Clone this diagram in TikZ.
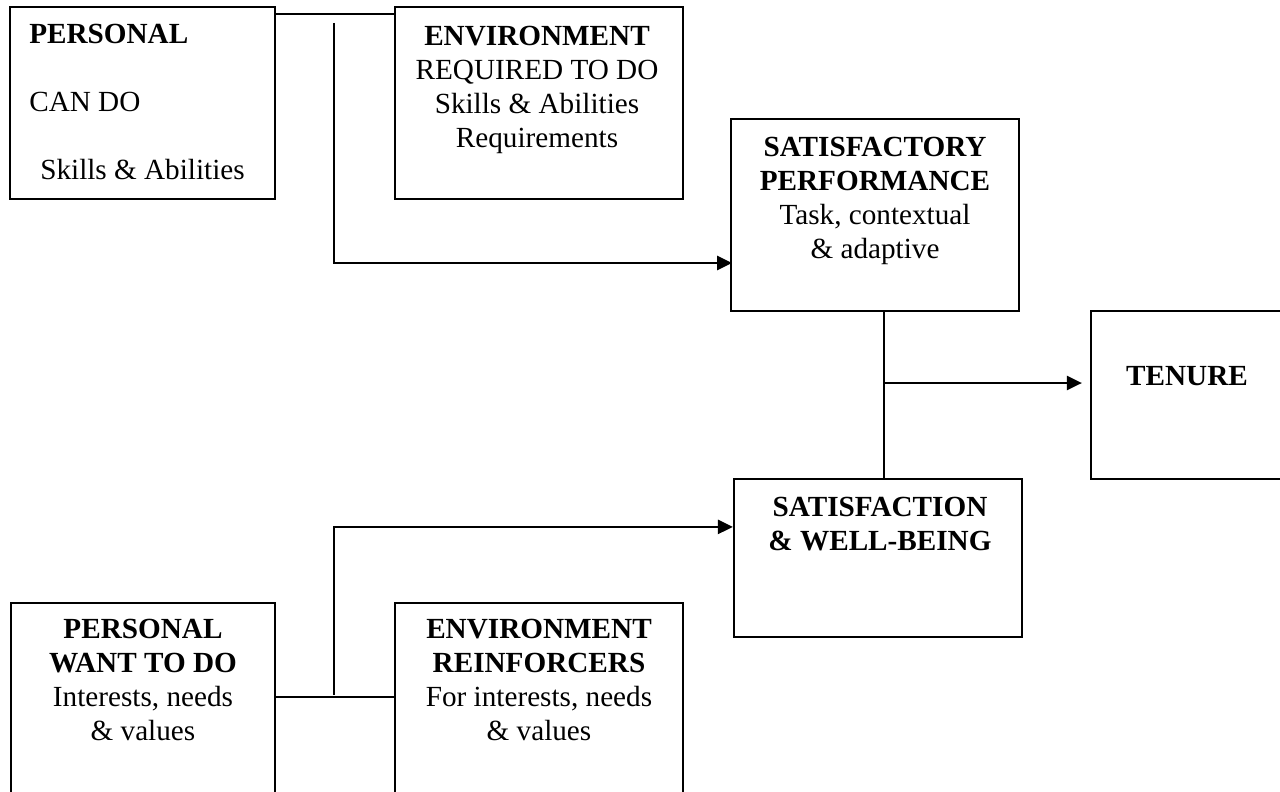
\documentclass[tikz,border=0pt]{standalone}
\usepackage{fontspec}
\setmainfont{Liberation Serif}
\usepackage{tikz}
\usetikzlibrary{arrows.meta, positioning, fit}

\tikzset{
  box/.style={draw, line width=1.1pt, inner sep=0pt},
  txt/.style={inner sep=0pt, align=center, font=\fontsize{14.6}{17}\selectfont},
  link/.style={line width=1.1pt},
  arr/.style={line width=1.3pt, -{Triangle[length=7.5pt, width=7pt]}}
}

\begin{document}
\begin{tikzpicture}[x=0.5pt, y=-0.5pt]
  \useasboundingbox (0,0) rectangle (1280,792);
  % Boxes
  \node[box, fit={(10,7) (275,199)}] (pcan) {};
  \node[box, fit={(395,7) (683,199)}] (ereq) {};
  \node[box, fit={(731,119) (1019,311)}] (perf) {};
  \node[box, fit={(1091,311) (1283,479)}] (tenure) {};
  \node[box, fit={(734,479) (1022,637)}] (satis) {};
  \node[box, fit={(11,603) (275,810)}] (pwant) {};
  \node[box, fit={(395,603) (683,810)}] (erein) {};
  % Box texts
  \node[txt, align=left, below right=9pt and 10pt of pcan.north west] (pcantxt)
    {\textbf{PERSONAL}\\ \\CAN DO\\ \\\hspace{5.5pt}Skills \& Abilities};
  \node[txt, below=10pt of ereq.north, xshift=-1pt] (ereqtxt)
    {\textbf{ENVIRONMENT}\\REQUIRED TO DO\\Skills \& Abilities\\Requirements};
  \node[txt, below=9.5pt of perf.north] (perftxt)
    {\textbf{SATISFACTORY}\\\textbf{PERFORMANCE}\\Task, contextual\\\& adaptive};
  \node[txt, below=28pt of tenure.north] (tenuretxt) {\textbf{TENURE}};
  \node[txt, below=9.5pt of satis.north, xshift=1pt] (satistxt)
    {\textbf{SATISFACTION}\\\textbf{\& WELL-BEING}};
  \node[txt, below=8.5pt of pwant.north] (pwanttxt)
    {\textbf{PERSONAL}\\\textbf{WANT TO DO}\\Interests, needs\\\& values};
  \node[txt, below=8.5pt of erein.north] (ereintxt)
    {\textbf{ENVIRONMENT}\\\textbf{REINFORCERS}\\For interests, needs\\\& values};
  % Can-do fit to performance
  \draw[link] ([yshift=-4pt]pcan.north east) -- ([yshift=-4pt]ereq.north west);
  \coordinate (can) at (334,23);
  \coordinate (canin) at (732,263);
  \draw[arr] (can) |- (canin);
  % Performance and satisfaction to tenure
  \draw[link] ([xshift=4.5pt]perf.south) -- ([xshift=4.5pt]perf.south |- satis.north);
  \coordinate (mid) at (884,383);
  \draw[arr] (mid) -- ([xshift=-4pt]tenure.west |- mid);
  % Want-to-do fit to satisfaction
  \draw[link] ([yshift=-47.5pt]pwant.north east) -- ([yshift=-47.5pt]erein.north west);
  \coordinate (want) at (334,695);
  \draw[arr] (want) |- ([yshift=-24.5pt]satis.north west);
\end{tikzpicture}
\end{document}
